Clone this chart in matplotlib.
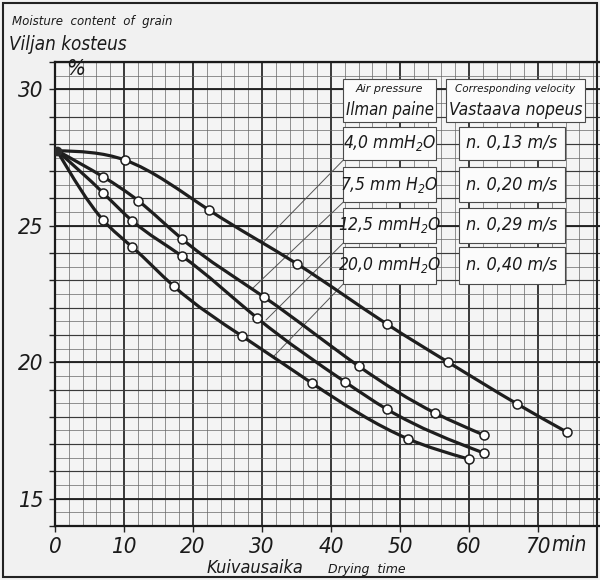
import numpy as np
import matplotlib
matplotlib.use('Agg')
import matplotlib.pyplot as plt
from matplotlib.path import Path
from matplotlib.patches import PathPatch, Rectangle
from matplotlib.ticker import MultipleLocator, FuncFormatter

plt.rcParams['mathtext.default'] = 'regular'

NARROW = ['DejaVu Sans']
SMALL = ['DejaVu Sans']
COND = 'condensed'

# kuivausaika (min) ja viljan kosteus (%) - luettu kuvasta
start_t, start_m = 0.3, 27.75

t_40 = [10.1, 22.3, 35.1, 48.1, 57.0, 67.0, 74.2]
m_40 = [27.41, 25.58, 23.6, 21.4, 20.0, 18.47, 17.44]

t_75 = [7.0, 12.1, 18.4, 30.3, 44.0, 55.1, 62.2]
m_75 = [26.79, 25.91, 24.52, 22.39, 19.86, 18.14, 17.33]

t_125 = [7.0, 11.2, 18.4, 29.3, 42.1, 48.1, 62.2]
m_125 = [26.2, 25.18, 23.89, 21.62, 19.27, 18.28, 16.67]

t_200 = [7.0, 11.2, 17.2, 27.1, 37.2, 51.2, 60.0]
m_200 = [25.2, 24.22, 22.79, 20.96, 19.24, 17.19, 16.45]

pressure_labels = ['4,0 mmH$_2$O', '7,5 mm H$_2$O', '12,5 mmH$_2$O', '20,0 mmH$_2$O']
velocity_labels = ['n. 0,13 m/s', 'n. 0,20 m/s', 'n. 0,29 m/s', 'n. 0,40 m/s']

x_ticks = [0, 10, 20, 30, 40, 50, 60, 70]
y_labelled = [15, 20, 25, 30]


def smooth_path(x, y):
    """Luonnollinen kuutiosplini Bezier-segmentteina"""
    x = np.asarray(x, float)
    y = np.asarray(y, float)
    n = len(x)
    h = np.diff(x)
    A = np.zeros((n, n))
    b = np.zeros(n)
    A[0, 0] = A[-1, -1] = 1.0
    for i in range(1, n - 1):
        A[i, i - 1] = h[i - 1]
        A[i, i] = 2 * (h[i - 1] + h[i])
        A[i, i + 1] = h[i]
        b[i] = 6 * ((y[i + 1] - y[i]) / h[i] - (y[i] - y[i - 1]) / h[i - 1])
    M = np.linalg.solve(A, b)
    d = np.empty(n)
    d[:-1] = (y[1:] - y[:-1]) / h - h * (2 * M[:-1] + M[1:]) / 6
    d[-1] = (y[-1] - y[-2]) / h[-1] + h[-1] * (M[-2] + 2 * M[-1]) / 6
    verts = [(x[0], y[0])]
    codes = [Path.MOVETO]
    for i in range(n - 1):
        verts += [(x[i] + h[i] / 3, y[i] + d[i] * h[i] / 3),
                  (x[i + 1] - h[i] / 3, y[i + 1] - d[i + 1] * h[i] / 3),
                  (x[i + 1], y[i + 1])]
        codes += [Path.CURVE4] * 3
    return Path(verts, codes)


def label(x, y, s, size, small=False, **kw):
    kw.setdefault('ha', 'center')
    kw.setdefault('va', 'center')
    if small:
        return fig.text(x / 600, 1 - y / 580, s, family=SMALL, style='italic',
                        fontsize=size, color='#1a1a1a', **kw)
    return fig.text(x / 600, 1 - y / 580, s, family=NARROW, stretch=COND, style='italic',
                    fontsize=size, color='#1a1a1a', **kw)


fig = plt.figure(figsize=(6, 5.8), dpi=100, facecolor='#f1f1f1')
ax = fig.add_axes([55 / 600, 1 - 526 / 580, 545 / 600, 464 / 580])
ax.set_facecolor('#f4f4f4')
ax.set_xlim(0, 79)
ax.set_ylim(14, 31)

# ruudukko
ax.xaxis.set_major_locator(MultipleLocator(10))
ax.xaxis.set_minor_locator(MultipleLocator(2))
ax.yaxis.set_major_locator(MultipleLocator(1))
ax.yaxis.set_minor_locator(MultipleLocator(0.5))
ax.grid(which='minor', color='#666666', lw=0.5)
ax.grid(which='major', axis='y', color='#3a3a3a', lw=0.85)
ax.grid(which='major', axis='x', color='#222222', lw=1.25)
for v in y_labelled:
    ax.axhline(v, color='#222222', lw=1.35, zorder=0.6)
ax.set_axisbelow(True)

ax.set_xticks(x_ticks)
ax.set_xticklabels([str(v) for v in x_ticks])
ax.yaxis.set_major_formatter(FuncFormatter(lambda v, p: f'{v:.0f}' if round(v) in y_labelled else ''))
ax.tick_params(which='major', length=4, width=1.0, color='#222222', pad=4, labelsize=16)
ax.tick_params(axis='x', pad=4)
ax.tick_params(which='minor', length=0)
for lab in ax.get_xticklabels() + ax.get_yticklabels():
    lab.set_family(NARROW)
    lab.set_stretch(COND)
    lab.set_style('italic')
    lab.set_color('#1a1a1a')

for side in ['left', 'bottom', 'top']:
    ax.spines[side].set_linewidth(1.6)
    ax.spines[side].set_color('#1a1a1a')
ax.spines['right'].set_visible(False)

# kuivauskayrat
series = [(t_40, m_40), (t_75, m_75), (t_125, m_125), (t_200, m_200)]
for t, m in series:
    xs = [start_t] + t
    ys = [start_m] + m
    ax.add_patch(PathPatch(smooth_path(xs, ys), fill=False, lw=2.3,
                           edgecolor='#1e1e1e', zorder=3, capstyle='round'))
    ax.plot(t, m, 'o', ms=6.5, mfc='white', mec='#1e1e1e', mew=1.1, zorder=4)
ax.plot([start_t], [start_m], 'o', ms=6, color='#2a2a2a', zorder=4)


# taulukko-laatikot
def box(x0, x1, y0, y1):
    ax.add_patch(Rectangle((x0, y0), x1 - x0, y1 - y0, facecolor='#fbfbfb',
                           edgecolor='#4a4a4a', lw=0.8, zorder=5))


def box_text(x, y, s, size, small=False):
    ax.text(x, y, s, family=SMALL if small else NARROW, stretch='normal' if small else COND,
            style='italic', fontsize=size, ha='center', va='center', zorder=6, color='#1a1a1a')


left_x = (41.8, 55.2)
right_x = (58.6, 73.9)
rows_y = [(27.41, 28.62), (25.87, 27.15), (24.37, 25.65), (22.87, 24.22)]

box(left_x[0], left_x[1], 28.8, 30.38)
box(56.7, 76.8, 28.8, 30.38)
box_text(48.5, 30.0, 'Air pressure', 8, small=True)
box_text(48.5, 29.25, 'Ilman paine', 12)
box_text(66.75, 30.0, 'Corresponding velocity', 7.5, small=True)
box_text(66.75, 29.25, 'Vastaava nopeus', 12.5)

# viivat laatikoista kayrille
leader_ends = [(30.2, 24.40), (28.7, 22.72), (30.6, 21.55), (31.6, 20.19)]
for (y0, y1), plab, vlab, end in zip(rows_y, pressure_labels, velocity_labels, leader_ends):
    box(left_x[0], left_x[1], y0, y1)
    box(right_x[0], right_x[1], y0, y1)
    box_text(sum(left_x) / 2, (y0 + y1) / 2, plab, 12.5)
    box_text(sum(right_x) / 2, (y0 + y1) / 2, vlab, 13)
    ax.plot([left_x[0], end[0]], [y0, end[1]], color='#555555', lw=0.7, zorder=2.5)

# otsikot
label(12, 22, 'Moisture  content  of  grain', 8.5, small=True, ha='left')
label(9, 45, 'Viljan kosteus', 13.5, ha='left')
label(76, 69, '%', 16)
label(569, 545, 'min', 15)
label(255, 568, 'Kuivausaika', 13)
label(367, 569, 'Drying  time', 9, small=True)

# kehys
fig.patches.append(Rectangle((3 / 600, 3 / 580), 594 / 600, 574 / 580, transform=fig.transFigure,
                             fill=False, edgecolor='#222222', lw=1.5))

plt.savefig('out.png', dpi=100, facecolor=fig.get_facecolor())
